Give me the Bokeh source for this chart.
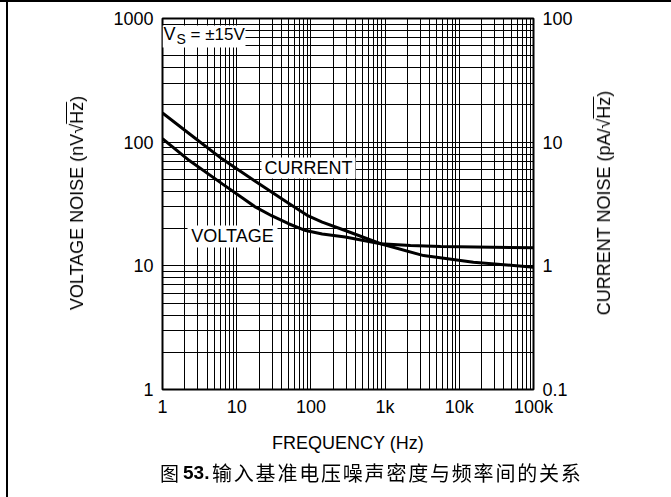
from bokeh.plotting import figure
from bokeh.layouts import column
from bokeh.models import LogAxis, Range1d, LogScale, FixedTicker, Label, BoxAnnotation, Div
from bokeh.embed import file_html
from bokeh.resources import INLINE

# ---- data ----
voltage_freq = [1, 2.3, 6.4, 18, 30, 50, 85, 142, 290, 870, 2200, 5600, 100000]
voltage_nv = [106.5, 71, 46, 29.8, 25.3, 21.9, 19.3, 18.1, 17.1, 15.1, 14.6, 14.3, 14.0]

current_freq = [1, 2.3, 6.4, 18, 50, 89, 142, 290, 870, 3300, 15500, 100000]
current_pa = [17.2, 11.7, 7.3, 4.8, 3.2, 2.56, 2.26, 1.93, 1.51, 1.21, 1.07, 0.976]

x_ticks = [1, 10, 100, 1000, 10000, 100000]
x_tick_labels = ["1", "10", "100", "1k", "10k", "100k"]
v_ticks = [1, 10, 100, 1000]
v_tick_labels = ["1", "10", "100", "1000"]
i_ticks = [0.1, 1, 10, 100]
i_tick_labels = ["0.1", "1", "10", "100"]

x_label = "FREQUENCY (Hz)"
v_label_head, v_label_root = "VOLTAGE NOISE (nV\u221a", "Hz"
i_label_head, i_label_root = "CURRENT NOISE (pA/\u221a", "Hz"
caption_fig = "图"
caption_num = "53."
caption_text = "输入基准电压噪声密度与频率间的关系"

FONT = "Liberation Sans"
CJK = "Noto Sans CJK SC"

# pixel geometry of the frame (for placing annotations only)
FL, FT, DX, DY = 162.0, 18.0, 74.2, 123.7


def fx(px):
    return 10 ** ((px - FL) / DX)


def fy(py):
    return 10 ** (3 - (py - FT) / DY)


def minors(lo, hi):
    out = []
    d = lo
    while d < hi * 0.999:
        out += [m * d for m in range(2, 10)]
        d *= 10
    return out


p = figure(width=655, height=460, x_axis_type="log", y_axis_type="log",
           x_range=Range1d(1, 100000), y_range=Range1d(1, 1000),
           output_backend="svg", toolbar_location=None,
           min_border_left=162, min_border_right=122,
           min_border_top=18, min_border_bottom=71)
p.background_fill_color = "white"
p.border_fill_color = "white"
p.outline_line_color = "black"
p.outline_line_width = 2

p.extra_y_ranges = {"i": Range1d(0.1, 100)}
p.extra_y_scales = {"i": LogScale()}
right = LogAxis(y_range_name="i")
p.add_layout(right, "right")

xt = FixedTicker(ticks=x_ticks, minor_ticks=minors(1, 100000))
yt = FixedTicker(ticks=v_ticks, minor_ticks=minors(1, 1000))
it = FixedTicker(ticks=i_ticks, minor_ticks=minors(0.1, 100))

p.xaxis.ticker = xt
p.yaxis[0].ticker = yt
right.ticker = it
p.xaxis.major_label_overrides = dict(zip(x_ticks, x_tick_labels))
p.yaxis[0].major_label_overrides = dict(zip(v_ticks, v_tick_labels))
right.major_label_overrides = dict(zip(i_ticks, i_tick_labels))

for ax in [p.xaxis[0], p.yaxis[0], right]:
    ax.axis_line_color = None
    ax.major_tick_line_color = None
    ax.minor_tick_line_color = None
    ax.major_tick_out = 0
    ax.major_tick_in = 0
    ax.minor_tick_out = 0
    ax.minor_tick_in = 0
    ax.major_label_text_font = FONT
    ax.major_label_text_font_size = "18px"
    ax.major_label_text_color = "black"
    ax.major_label_standoff = 9
    ax.axis_label_text_font = FONT
    ax.axis_label_text_font_size = "18px"
    ax.axis_label_text_font_style = "normal"
    ax.axis_label_text_color = "black"

p.xaxis.axis_label = x_label
p.xaxis.major_label_standoff = 7
p.xaxis.axis_label_standoff = 13

for g, t in [(p.xgrid, xt), (p.ygrid, yt)]:
    g.ticker = t
    g.grid_line_color = "black"
    g.grid_line_width = 1
    g.minor_grid_line_color = "black"
    g.minor_grid_line_width = 1

p.line(voltage_freq, voltage_nv, line_width=3, line_color="black")
p.line(current_freq, current_pa, y_range_name="i", line_width=3, line_color="black")

# white label backgrounds
for l, r, t, b in [(162, 245, 25, 47), (261, 355, 157, 178), (187, 277, 225, 247)]:
    p.add_layout(BoxAnnotation(left=fx(l), right=fx(r), top=fy(t), bottom=fy(b),
                               fill_color="white", fill_alpha=1, line_color=None,
                               level="overlay"))


def lab(px, py, text, size="18px", align="left", font=FONT):
    p.add_layout(Label(x=fx(px), y=fy(py), text=text, text_font=font, text_font_size=size,
                       text_align=align, text_baseline="middle", text_color="black",
                       level="overlay"))


lab(163, 34, "V")
lab(176, 39, "S", size="14px")
lab(190, 34, "= \u00b115V", size="17px")
lab(308, 167.5, "CURRENT", align="center")
lab(232, 236, "VOLTAGE", align="center")

# rotated axis titles, caption and page rules (fixed-position HTML)
rot = ("position:fixed;white-space:nowrap;color:#000;font-size:18px;line-height:20px;"
       f"font-family:'{FONT}';transform:translate(-50%,-50%) rotate(-90deg);")
ov = "text-decoration:overline;"
fix = "position:fixed;white-space:nowrap;color:#000;line-height:24px;"
html = (
    '<div style="position:fixed;left:6px;top:0px;width:2px;height:497px;background:#000"></div>'
    '<div style="position:fixed;left:0px;top:0px;width:671px;height:2px;background:#000"></div>'
    f'<div style="{rot}left:77px;top:203px">{v_label_head}<span style="{ov}">{v_label_root}</span>)</div>'
    f'<div style="{rot}left:604px;top:203px">{i_label_head}<span style="{ov}">{i_label_root}</span>)</div>'
    f'<div style="{fix}left:160px;top:461px;font-size:19px;font-family:\'{CJK}\'">{caption_fig}</div>'
    f'<div style="{fix}left:183px;top:461px;font-size:19px;font-family:\'{FONT}\';font-weight:bold">{caption_num}</div>'
    f'<div style="{fix}left:212px;top:461px;font-size:20px;font-family:\'{CJK}\';letter-spacing:1.8px">{caption_text}</div>'
)
cap = Div(text=html, width=10, height=10)

layout = column(p, cap)
open("out.html", "w").write(file_html(layout, INLINE))
